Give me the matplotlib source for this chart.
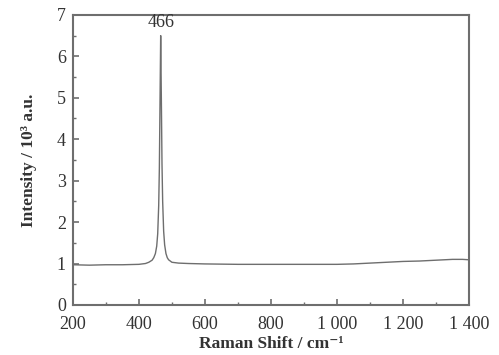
import matplotlib
matplotlib.use("Agg")
import matplotlib.pyplot as plt
from matplotlib.ticker import MultipleLocator, FixedLocator

plt.rcParams['font.family'] = ['Liberation Serif', 'DejaVu Serif']

shift = [200, 250, 300, 350, 400, 420, 430, 440, 445, 450, 454, 457, 460, 462, 464,
         466, 468, 470, 472, 475, 478, 482, 486, 490, 500, 520, 550, 600, 700, 800,
         900, 1000, 1050, 1100, 1150, 1200, 1250, 1300, 1350, 1380, 1400]
intensity = [0.97, 0.96, 0.97, 0.97, 0.98, 1.00, 1.03, 1.08, 1.14, 1.24, 1.42, 1.72,
             2.40, 3.30, 4.90, 6.50, 5.00, 3.40, 2.50, 1.78, 1.45, 1.24, 1.14, 1.09,
             1.03, 1.01, 1.00, 0.99, 0.98, 0.98, 0.98, 0.98, 0.99, 1.01, 1.03, 1.05,
             1.06, 1.08, 1.10, 1.10, 1.09]
x_ticks = [200, 400, 600, 800, 1000, 1200, 1400]
x_tick_labels = ["200", "400", "600", "800", "1 000", "1 200", "1 400"]
y_ticks = [0, 1, 2, 3, 4, 5, 6, 7]
peak_label = "466"
peak_pos = (466, 6.62)

fig = plt.figure(figsize=(4.99, 3.55), dpi=100)
ax = fig.add_axes([0.146, 0.141, 0.794, 0.817])
gray = "#6e6e6e"
txt = "#333333"
ax.plot(shift, intensity, color=gray, lw=1.0)
ax.set_xlim(200, 1400)
ax.set_ylim(0, 7)
ax.xaxis.set_major_locator(FixedLocator(x_ticks))
ax.set_xticklabels(x_tick_labels)
ax.xaxis.set_minor_locator(MultipleLocator(100))
ax.set_yticks(y_ticks)
ax.yaxis.set_minor_locator(MultipleLocator(0.5))
ax.tick_params(which='both', direction='in', top=False, right=False, color=gray,
               labelcolor=txt, labelsize=13)
ax.tick_params(which='major', length=4, width=1.2)
ax.tick_params(which='minor', length=2.5, width=1.0)
ax.tick_params(axis='x', pad=8)
ax.tick_params(axis='y', pad=5)
for s in ax.spines.values():
    s.set_color(gray)
    s.set_linewidth(1.5)
ax.text(peak_pos[0], peak_pos[1], peak_label, ha='center', va='bottom',
        fontsize=13, color=txt)
ax.set_xlabel("Raman Shift / cm\u207b\u00b9", fontsize=12.5, fontweight='bold', color=txt, labelpad=2)
ax.set_ylabel("Intensity / 10\u00b3 a.u.", fontsize=12.5, fontweight='bold', color=txt, labelpad=14)
fig.savefig("out.png", dpi=100)
